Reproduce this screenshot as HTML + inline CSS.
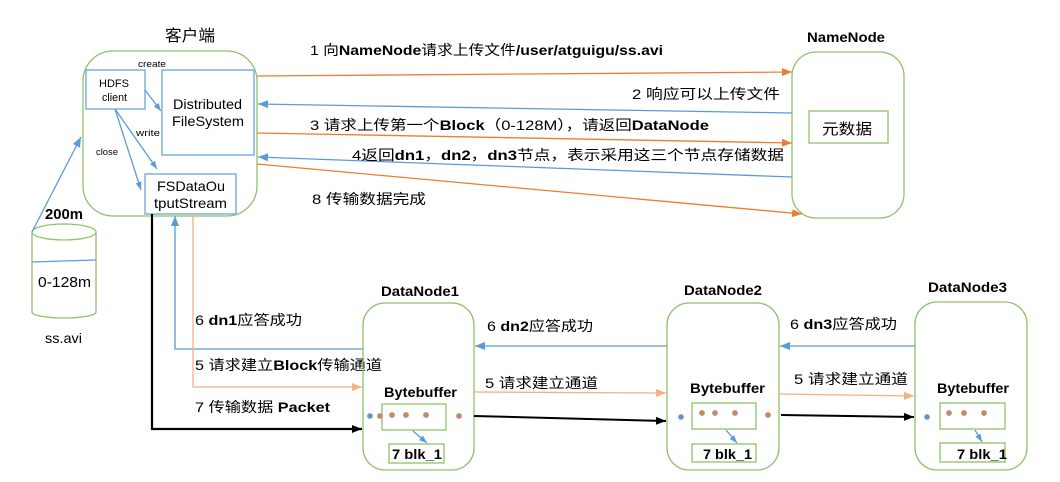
<!DOCTYPE html>
<html><head><meta charset="utf-8"><style>
html,body{margin:0;padding:0;background:#fff;}
svg{display:block;}
text{font-family:"Liberation Sans","Noto Sans CJK SC",sans-serif;fill:#000;}
</style></head><body>
<svg width="1060" height="482" viewBox="0 0 1060 482" xmlns="http://www.w3.org/2000/svg">
<defs>
<marker id="mo" markerUnits="userSpaceOnUse" markerWidth="11" markerHeight="9" refX="10" refY="4" orient="auto"><path d="M0,0 L10,4 L0,8 z" fill="#ED7D31"/></marker>
<marker id="mb" markerUnits="userSpaceOnUse" markerWidth="11" markerHeight="9" refX="10" refY="4" orient="auto"><path d="M0,0 L10,4 L0,8 z" fill="#5B9BD5"/></marker>
<marker id="ml" markerUnits="userSpaceOnUse" markerWidth="11" markerHeight="9" refX="10" refY="4" orient="auto"><path d="M0,0 L10,4 L0,8 z" fill="#F4B183"/></marker>
<marker id="mk" markerUnits="userSpaceOnUse" markerWidth="11" markerHeight="9" refX="10" refY="4" orient="auto"><path d="M0,0 L10,4 L0,8 z" fill="#000"/></marker>
<marker id="ms" markerUnits="userSpaceOnUse" markerWidth="9" markerHeight="7" refX="8" refY="3" orient="auto"><path d="M0,0 L8,3 L0,6 z" fill="#5B9BD5"/></marker>
</defs>

<!-- Client -->
<text x="165" y="41" font-size="16" textLength="50" lengthAdjust="spacingAndGlyphs">客户端</text>
<rect x="83" y="51" width="174" height="165" rx="30" ry="30" fill="none" stroke="#8CC26A" stroke-width="1.3"/>
<rect x="86" y="70" width="59" height="39" fill="none" stroke="#7FB0E0" stroke-width="1.5"/>
<text x="99" y="87" font-size="11" textLength="30" lengthAdjust="spacingAndGlyphs">HDFS</text>
<text x="102" y="101" font-size="11" textLength="25" lengthAdjust="spacingAndGlyphs">client</text>
<rect x="162" y="70" width="92" height="85" fill="none" stroke="#7FB0E0" stroke-width="1.5"/>
<text x="173" y="109" font-size="14" textLength="69" lengthAdjust="spacingAndGlyphs">Distributed</text>
<text x="172" y="126" font-size="14" textLength="72" lengthAdjust="spacingAndGlyphs">FileSystem</text>
<rect x="145" y="174" width="91" height="40" fill="#fff" stroke="#7FB0E0" stroke-width="1.5"/>
<text x="157" y="191" font-size="14" textLength="68" lengthAdjust="spacingAndGlyphs">FSDataOu</text>
<text x="154" y="208" font-size="14" textLength="73" lengthAdjust="spacingAndGlyphs">tputStream</text>
<text x="138" y="67" font-size="9" textLength="28" lengthAdjust="spacingAndGlyphs">create</text>
<text x="136" y="136" font-size="9" textLength="24" lengthAdjust="spacingAndGlyphs">write</text>
<text x="96" y="155" font-size="9" textLength="22" lengthAdjust="spacingAndGlyphs">close</text>
<line x1="145" y1="90" x2="161" y2="111" stroke="#5B9BD5" stroke-width="1.3" marker-end="url(#ms)"/>
<line x1="115" y1="109" x2="157" y2="169" stroke="#5B9BD5" stroke-width="1.3" marker-end="url(#ms)"/>
<line x1="115" y1="109" x2="141" y2="190" stroke="#5B9BD5" stroke-width="1.3" marker-end="url(#ms)"/>

<!-- Cylinder -->
<path d="M32,232 L32,312 A32,6 0 0 0 96,312 L96,232" fill="none" stroke="#8CC26A" stroke-width="1.3"/>
<ellipse cx="64" cy="232" rx="32" ry="8" fill="none" stroke="#8CC26A" stroke-width="1.3"/>
<line x1="32" y1="262" x2="96" y2="260" stroke="#5B9BD5" stroke-width="1.2"/>
<text x="38" y="287" font-size="15" textLength="53" lengthAdjust="spacingAndGlyphs">0-128m</text>
<text x="45" y="343" font-size="14" textLength="37" lengthAdjust="spacingAndGlyphs">ss.avi</text>
<text x="45" y="219" font-size="15" font-weight="bold" textLength="38" lengthAdjust="spacingAndGlyphs">200m</text>
<line x1="32" y1="232" x2="81" y2="137" stroke="#5B9BD5" stroke-width="1.3" marker-end="url(#mb)"/>

<!-- NameNode -->
<text x="807" y="42" font-size="14" font-weight="bold" textLength="78" lengthAdjust="spacingAndGlyphs">NameNode</text>
<rect x="792" y="52" width="112" height="166" rx="24" ry="24" fill="none" stroke="#8CC26A" stroke-width="1.3"/>
<rect x="809" y="111" width="79" height="32" fill="none" stroke="#8CC26A" stroke-width="1.3"/>
<text x="822" y="134" font-size="15" textLength="50" lengthAdjust="spacingAndGlyphs">元数据</text>

<!-- Client <-> NameNode arrows -->
<line x1="257" y1="76" x2="792" y2="72" stroke="#ED7D31" stroke-width="1.3" marker-end="url(#mo)"/>
<line x1="792" y1="113" x2="258" y2="104" stroke="#5B9BD5" stroke-width="1.3" marker-end="url(#mb)"/>
<line x1="257" y1="133" x2="792" y2="143" stroke="#ED7D31" stroke-width="1.3" marker-end="url(#mo)"/>
<line x1="792" y1="177" x2="258" y2="157" stroke="#5B9BD5" stroke-width="1.3" marker-end="url(#mb)"/>
<line x1="257" y1="164" x2="802" y2="214" stroke="#ED7D31" stroke-width="1.3" marker-end="url(#mo)"/>
<text x="310" y="55" font-size="14" textLength="353" lengthAdjust="spacingAndGlyphs">1 向<tspan font-weight="bold">NameNode</tspan>请求上传文件<tspan font-weight="bold">/user/atguigu/ss.avi</tspan></text>
<text x="632" y="99" font-size="14" textLength="148" lengthAdjust="spacingAndGlyphs">2 响应可以上传文件</text>
<text x="310" y="130" font-size="14" textLength="399" lengthAdjust="spacingAndGlyphs">3 请求上传第一个<tspan font-weight="bold">Block</tspan>（0-128M），请返回<tspan font-weight="bold">DataNode</tspan></text>
<text x="352" y="160" font-size="14" textLength="432" lengthAdjust="spacingAndGlyphs">4返回<tspan font-weight="bold">dn1</tspan>，<tspan font-weight="bold">dn2</tspan>，<tspan font-weight="bold">dn3</tspan>节点，表示采用这三个节点存储数据</text>
<text x="312" y="204" font-size="14" textLength="114" lengthAdjust="spacingAndGlyphs">8 传输数据完成</text>

<!-- Client -> DN1 -->
<polyline points="152,214 152,429 362,429" fill="none" stroke="#000" stroke-width="2.2" marker-end="url(#mk)"/>
<polyline points="363,349 175,349 175,216" fill="none" stroke="#5B9BD5" stroke-width="1.3" marker-end="url(#mb)"/>
<polyline points="193,214 193,387 362,387" fill="none" stroke="#F4B183" stroke-width="1.3" marker-end="url(#ml)"/>
<text x="195" y="325" font-size="14" textLength="107" lengthAdjust="spacingAndGlyphs">6 <tspan font-weight="bold">dn1</tspan>应答成功</text>
<text x="195" y="370" font-size="14" textLength="187" lengthAdjust="spacingAndGlyphs">5 请求建立<tspan font-weight="bold">Block</tspan>传输通道</text>
<text x="195" y="412" font-size="14" textLength="135" lengthAdjust="spacingAndGlyphs">7 传输数据 <tspan font-weight="bold">Packet</tspan></text>

<!-- DataNode1 -->
<text x="381" y="296" font-size="14" font-weight="bold" textLength="78" lengthAdjust="spacingAndGlyphs">DataNode1</text>
<rect x="363" y="303" width="111" height="167" rx="22" ry="22" fill="none" stroke="#8CC26A" stroke-width="1.3"/>
<text x="384" y="397" font-size="14" font-weight="bold" textLength="73" lengthAdjust="spacingAndGlyphs">Bytebuffer</text>
<rect x="382" y="404" width="64" height="26" fill="none" stroke="#8CC26A" stroke-width="1.3"/>
<rect x="389" y="444" width="55" height="19" fill="none" stroke="#8CC26A" stroke-width="1.3"/>
<text x="392" y="459" font-size="14" font-weight="bold" textLength="50" lengthAdjust="spacingAndGlyphs">7 blk_1</text>
<line x1="413" y1="431" x2="427" y2="443" stroke="#5B9BD5" stroke-width="1.3" marker-end="url(#ms)"/>

<!-- DataNode2 -->
<text x="684" y="295" font-size="14" font-weight="bold" textLength="78" lengthAdjust="spacingAndGlyphs">DataNode2</text>
<rect x="667" y="303" width="112" height="167" rx="22" ry="22" fill="none" stroke="#8CC26A" stroke-width="1.3"/>
<text x="690" y="393" font-size="14" font-weight="bold" textLength="75" lengthAdjust="spacingAndGlyphs">Bytebuffer</text>
<rect x="692" y="403" width="64" height="26" fill="none" stroke="#8CC26A" stroke-width="1.3"/>
<rect x="692" y="444" width="64" height="18" fill="none" stroke="#8CC26A" stroke-width="1.3"/>
<text x="703" y="459" font-size="14" font-weight="bold" textLength="49" lengthAdjust="spacingAndGlyphs">7 blk_1</text>
<line x1="726" y1="430" x2="737" y2="443" stroke="#5B9BD5" stroke-width="1.3" marker-end="url(#ms)"/>

<!-- DataNode3 -->
<text x="928" y="292" font-size="14" font-weight="bold" textLength="79" lengthAdjust="spacingAndGlyphs">DataNode3</text>
<rect x="915" y="302" width="112" height="168" rx="22" ry="22" fill="none" stroke="#8CC26A" stroke-width="1.3"/>
<text x="937" y="393" font-size="14" font-weight="bold" textLength="72" lengthAdjust="spacingAndGlyphs">Bytebuffer</text>
<rect x="940" y="403" width="65" height="26" fill="none" stroke="#8CC26A" stroke-width="1.3"/>
<rect x="940" y="443" width="65" height="19" fill="none" stroke="#8CC26A" stroke-width="1.3"/>
<text x="957" y="459" font-size="14" font-weight="bold" textLength="50" lengthAdjust="spacingAndGlyphs">7 blk_1</text>
<line x1="975" y1="430" x2="982" y2="442" stroke="#5B9BD5" stroke-width="1.3" marker-end="url(#ms)"/>

<!-- DN1 <-> DN2 -->
<line x1="667" y1="346" x2="475" y2="346" stroke="#5B9BD5" stroke-width="1.3" marker-end="url(#mb)"/>
<line x1="474" y1="392" x2="666" y2="393" stroke="#F4B183" stroke-width="1.3" marker-end="url(#ml)"/>
<line x1="474" y1="416" x2="666" y2="421" stroke="#000" stroke-width="2" marker-end="url(#mk)"/>
<text x="487" y="331" font-size="14" textLength="106" lengthAdjust="spacingAndGlyphs">6 <tspan font-weight="bold">dn2</tspan>应答成功</text>
<text x="485" y="388" font-size="14" textLength="113" lengthAdjust="spacingAndGlyphs">5 请求建立通道</text>

<!-- DN2 <-> DN3 -->
<line x1="915" y1="346" x2="780" y2="346" stroke="#5B9BD5" stroke-width="1.3" marker-end="url(#mb)"/>
<line x1="779" y1="394" x2="914" y2="396" stroke="#F4B183" stroke-width="1.3" marker-end="url(#ml)"/>
<line x1="781" y1="415" x2="914" y2="417" stroke="#000" stroke-width="2" marker-end="url(#mk)"/>
<text x="790" y="329" font-size="14" textLength="107" lengthAdjust="spacingAndGlyphs">6 <tspan font-weight="bold">dn3</tspan>应答成功</text>
<text x="794" y="384" font-size="14" textLength="114" lengthAdjust="spacingAndGlyphs">5 请求建立通道</text>

<!-- dots -->
<g stroke="#8FAADC" stroke-width="0.8">
<circle cx="370" cy="416" r="2.6" fill="#6F8FBF"/>
<circle cx="380" cy="416" r="2.6" fill="#ED7D31"/>
<circle cx="392" cy="415" r="2.6" fill="#ED7D31"/>
<circle cx="406" cy="415" r="2.6" fill="#ED7D31"/>
<circle cx="426" cy="415" r="2.6" fill="#ED7D31"/>
<circle cx="459" cy="416" r="2.6" fill="#ED7D31"/>
<circle cx="681" cy="417" r="2.6" fill="#6F8FBF"/>
<circle cx="702" cy="413" r="2.6" fill="#ED7D31"/>
<circle cx="715" cy="413" r="2.6" fill="#ED7D31"/>
<circle cx="735" cy="413" r="2.6" fill="#ED7D31"/>
<circle cx="768" cy="415" r="2.6" fill="#ED7D31"/>
<circle cx="927" cy="417" r="2.6" fill="#6F8FBF"/>
<circle cx="949" cy="413" r="2.6" fill="#ED7D31"/>
<circle cx="964" cy="413" r="2.6" fill="#ED7D31"/>
<circle cx="984" cy="413" r="2.6" fill="#ED7D31"/>
</g>
</svg>
</body></html>
